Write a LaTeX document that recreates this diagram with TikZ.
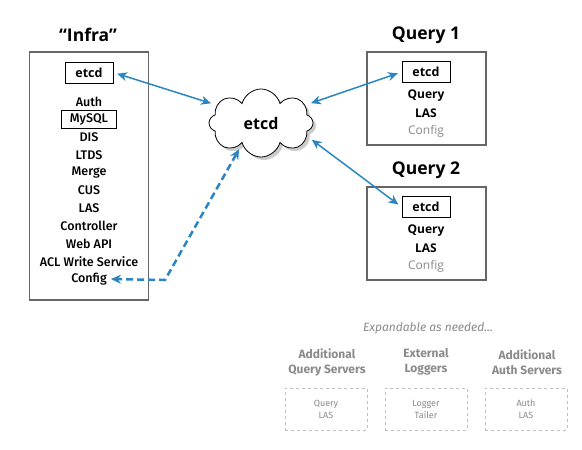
\documentclass[tikz,border=0pt]{standalone}
\usepackage{fontspec}
\setmainfont{Fira Sans}
\newfontfamily\opensans{Open Sans}
\newfontfamily\firamed{Fira Sans Medium}
\usetikzlibrary{arrows.meta,shapes.symbols,shadows,positioning}

\definecolor{linkblue}{HTML}{2A85C0}
\definecolor{softgray}{HTML}{8A8A8A}
\definecolor{framegray}{HTML}{666666}

\tikzset{
  title/.style={font=\opensans\bfseries\fontsize{17.5}{20}\selectfont},
  server/.style={draw=framegray, line width=1.3pt, minimum width=119pt},
  etcdbox/.style={draw, line width=0.8pt, minimum width=48pt, minimum height=21pt,
    font=\opensans\bfseries\fontsize{12.5}{14}\selectfont},
  item/.style={font=\firamed\fontsize{12.5}{14}\selectfont, inner sep=1pt},
  boxed/.style={draw, line width=0.8pt, minimum width=55pt, minimum height=18pt},
  qitem/.style={font=\opensans\bfseries\fontsize{12}{14}\selectfont, inner sep=1pt},
  faded/.style={text=softgray, font=\opensans\fontsize{12}{14}\selectfont},
  link/.style={draw=linkblue, line width=1.5pt},
  extra/.style={text=softgray, font=\bfseries\fontsize{12}{15}\selectfont, align=center},
  spare/.style={draw=black!25, dashed, line width=0.8pt, minimum width=82pt,
    minimum height=42pt, text=softgray, font=\fontsize{9}{12}\selectfont, align=center}
}

\begin{document}
\begin{tikzpicture}[x=1pt,y=-1pt,>={Stealth[length=10pt,width=9pt]}]
  \useasboundingbox (0,0) rectangle (582,450);

  % infra server
  \node[title] (infratitle) at (88,35) {“Infra”};
  \node[server, minimum height=248pt] (infra) at (89,176) {};
  \node[etcdbox] (ietcd) at (89,72.5) {etcd};
  \foreach \name/\txt/\sty [count=\i] in {auth/Auth/, mysql/MySQL/boxed, dis/DIS/,
      ltds/LTDS/, merge/Merge/, cus/CUS/, las/LAS/, ctrl/Controller/,
      webapi/Web API/, aclws/ACL Write Service/, config/Config/}
    \node[item,\sty] (\name) at (89,84.3+17.7*\i) {\txt};

  % query servers
  \node[title] (q1title) at (426,35) {Query 1};
  \node[server, minimum height=93pt] (q1) at (426.5,98.5) {};
  \node[etcdbox] (q1etcd) at (426,72) {etcd};
  \node[qitem] (q1query) at (426,96) {Query};
  \node[qitem] (q1las) at (426,113.5) {LAS};
  \node[qitem,faded] (q1config) at (426,131) {Config};

  \node[title] (q2title) at (426,170) {Query 2};
  \node[server, minimum height=93pt] (q2) at (426.5,233.5) {};
  \node[etcdbox] (q2etcd) at (426,207) {etcd};
  \node[qitem] (q2query) at (426,231) {Query};
  \node[qitem] (q2las) at (426,248.5) {LAS};
  \node[qitem,faded] (q2config) at (426,266) {Config};

  % shared etcd
  \node[cloud, cloud puffs=8, cloud puff arc=150, aspect=1.5, draw, fill=white, line width=0.8pt,
    minimum width=104pt, minimum height=68pt, inner sep=0pt,
    drop shadow={shadow xshift=3pt, shadow yshift=-3pt, fill=black!40},
    font=\opensans\bfseries\fontsize{16}{18}\selectfont] (cloud) at (261,123) {etcd};

  \draw[link,<->,shorten <=4pt,shorten >=6pt] (ietcd.east) -- (cloud.158);
  \draw[link,<->,shorten <=6pt,shorten >=4pt] (cloud.22) -- (q1etcd.west);
  \draw[link,<->,shorten <=6pt,shorten >=4pt] (cloud.-16) -- (q2etcd.west);
  \coordinate (dbend) at (165,280);
  \draw[link,<->,line width=2.5pt,dash pattern=on 7pt off 4pt,shorten <=6pt,shorten >=3pt]
    (cloud.228) -- (dbend) -- (config.east);

  % expansion
  \node[text=softgray, font=\itshape\fontsize{12}{14}\selectfont] (expand) at (428,328) {Expandable as needed...};
  \node[extra] (addq) at (327,362) {Additional\\Query Servers};
  \node[extra] (extlog) at (426,362) {External\\Loggers};
  \node[extra] (adda) at (527,362) {Additional\\Auth Servers};
  \node[spare] (addqbox) at (326,409) {Query\\LAS};
  \node[spare] (extlogbox) at (426,409) {Logger\\Tailer};
  \node[spare] (addabox) at (526,409) {Auth\\LAS};
\end{tikzpicture}
\end{document}
